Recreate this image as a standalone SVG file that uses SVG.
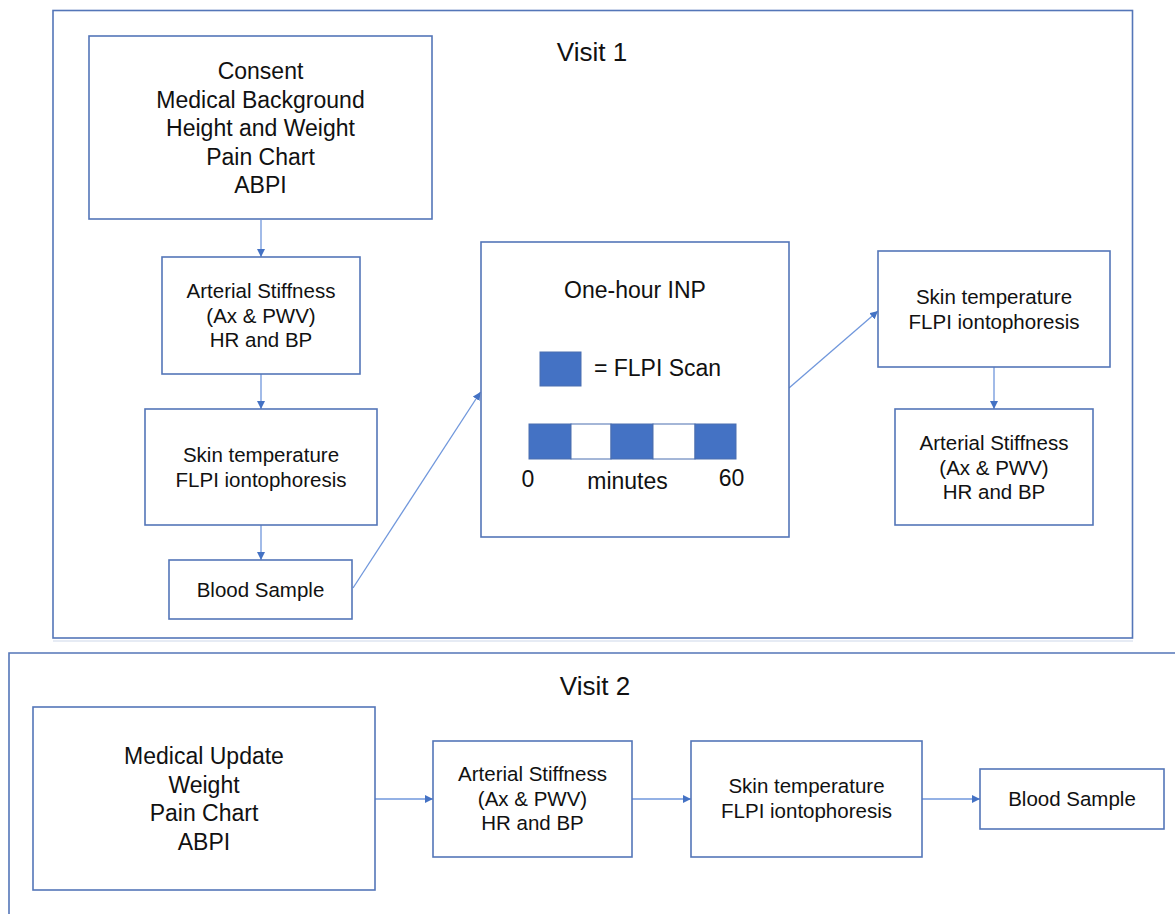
<svg xmlns="http://www.w3.org/2000/svg" width="1175" height="914" viewBox="0 0 1175 914">
<defs>
<style>
.box{fill:#fff;stroke:#5476b8;stroke-width:1.6}
.frame{fill:none;stroke:#5476b8;stroke-width:1.6}
.t{font-family:"Liberation Sans",Arial,sans-serif;fill:#111;text-anchor:middle}
.big{font-size:23px}
.sm{font-size:20.5px}
.title{font-size:26px}
.conn{fill:none;stroke:#7097dc;stroke-width:1.3}
.scan{fill:#4472c4;stroke:#4a6fb0;stroke-width:1}
.gap{fill:#fff;stroke:#4a6fb0;stroke-width:1}
</style>
<marker id="ah" viewBox="0 0 10 10" refX="10" refY="5" markerWidth="8" markerHeight="8" markerUnits="userSpaceOnUse" orient="auto">
<path d="M0,0 L10,5 L0,10 Z" fill="#4472c4"/>
</marker>
</defs>
<rect width="1175" height="914" fill="#fff"/>

<g id="visit1">
<rect class="frame" x="53" y="10.5" width="1079.5" height="627.5"/>
<text class="t title" x="592" y="61">Visit 1</text>
</g>
<line x1="53" y1="641" x2="1133" y2="641" stroke="#e6ebf4" stroke-width="2"/>
<g id="visit2">
<path class="frame" d="M9,914 L9,653 L1176,653"/>
<text class="t title" x="595" y="695">Visit 2</text>
</g>

<g id="connectors">
<line class="conn" x1="261" y1="220" x2="261" y2="257" marker-end="url(#ah)"/>
<line class="conn" x1="261" y1="374" x2="261" y2="409" marker-end="url(#ah)"/>
<line class="conn" x1="261" y1="525" x2="261" y2="560" marker-end="url(#ah)"/>
<line class="conn" x1="353" y1="588" x2="480.5" y2="392" marker-end="url(#ah)"/>
<line class="conn" x1="789" y1="388" x2="878" y2="311" marker-end="url(#ah)"/>
<line class="conn" x1="994" y1="367" x2="994" y2="409" marker-end="url(#ah)"/>
<line class="conn" x1="375" y1="799" x2="433" y2="799" marker-end="url(#ah)"/>
<line class="conn" x1="632" y1="799" x2="691" y2="799" marker-end="url(#ah)"/>
<line class="conn" x1="922" y1="799" x2="980" y2="799" marker-end="url(#ah)"/>
</g>

<g id="consent">
<rect class="box" x="89" y="36" width="343" height="183"/>
<text class="t big" x="260.5" y="79">Consent</text>
<text class="t big" x="260.5" y="107.5">Medical Background</text>
<text class="t big" x="260.5" y="136">Height and Weight</text>
<text class="t big" x="260.5" y="164.5">Pain Chart</text>
<text class="t big" x="260.5" y="193">ABPI</text>
</g>

<g id="arterial1">
<rect class="box" x="162" y="257" width="198" height="117"/>
<text class="t sm" x="261" y="298">Arterial Stiffness</text>
<text class="t sm" x="261" y="322.5">(Ax &amp; PWV)</text>
<text class="t sm" x="261" y="347">HR and BP</text>
</g>

<g id="skin1">
<rect class="box" x="145" y="409" width="232" height="116"/>
<text class="t sm" x="261" y="462">Skin temperature</text>
<text class="t sm" x="261" y="486.5">FLPI iontophoresis</text>
</g>

<g id="blood1">
<rect class="box" x="169" y="560" width="183" height="59"/>
<text class="t sm" x="260.5" y="597">Blood Sample</text>
</g>

<g id="inp">
<rect class="box" x="481" y="242" width="308" height="295"/>
<text class="t big" x="635" y="298">One-hour INP</text>
<rect class="scan" x="540" y="352" width="41" height="34"/>
<text class="t big" x="657.5" y="376">= FLPI Scan</text>
<rect class="scan" x="529" y="424" width="42" height="35"/>
<rect class="gap" x="571" y="424" width="40" height="35"/>
<rect class="scan" x="611" y="424" width="42" height="35"/>
<rect class="gap" x="653" y="424" width="42" height="35"/>
<rect class="scan" x="695" y="424" width="41" height="35"/>
<text class="t big" x="528" y="487">0</text>
<text class="t big" x="627.5" y="489">minutes</text>
<text class="t big" x="731.5" y="486">60</text>
</g>

<g id="skin1r">
<rect class="box" x="878" y="251" width="232" height="116"/>
<text class="t sm" x="994" y="304">Skin temperature</text>
<text class="t sm" x="994" y="328.5">FLPI iontophoresis</text>
</g>

<g id="arterial1r">
<rect class="box" x="895" y="409" width="198" height="116"/>
<text class="t sm" x="994" y="450">Arterial Stiffness</text>
<text class="t sm" x="994" y="474.5">(Ax &amp; PWV)</text>
<text class="t sm" x="994" y="499">HR and BP</text>
</g>

<g id="medical2">
<rect class="box" x="33" y="707" width="342" height="183"/>
<text class="t big" x="204" y="764">Medical Update</text>
<text class="t big" x="204" y="792.5">Weight</text>
<text class="t big" x="204" y="821">Pain Chart</text>
<text class="t big" x="204" y="849.5">ABPI</text>
</g>

<g id="arterial2">
<rect class="box" x="433" y="741" width="199" height="116"/>
<text class="t sm" x="532.5" y="781">Arterial Stiffness</text>
<text class="t sm" x="532.5" y="805.5">(Ax &amp; PWV)</text>
<text class="t sm" x="532.5" y="830">HR and BP</text>
</g>

<g id="skin2">
<rect class="box" x="691" y="741" width="231" height="116"/>
<text class="t sm" x="806.5" y="793">Skin temperature</text>
<text class="t sm" x="806.5" y="817.5">FLPI iontophoresis</text>
</g>

<g id="blood2">
<rect class="box" x="980" y="769" width="184" height="60"/>
<text class="t sm" x="1072" y="806">Blood Sample</text>
</g>
</svg>
